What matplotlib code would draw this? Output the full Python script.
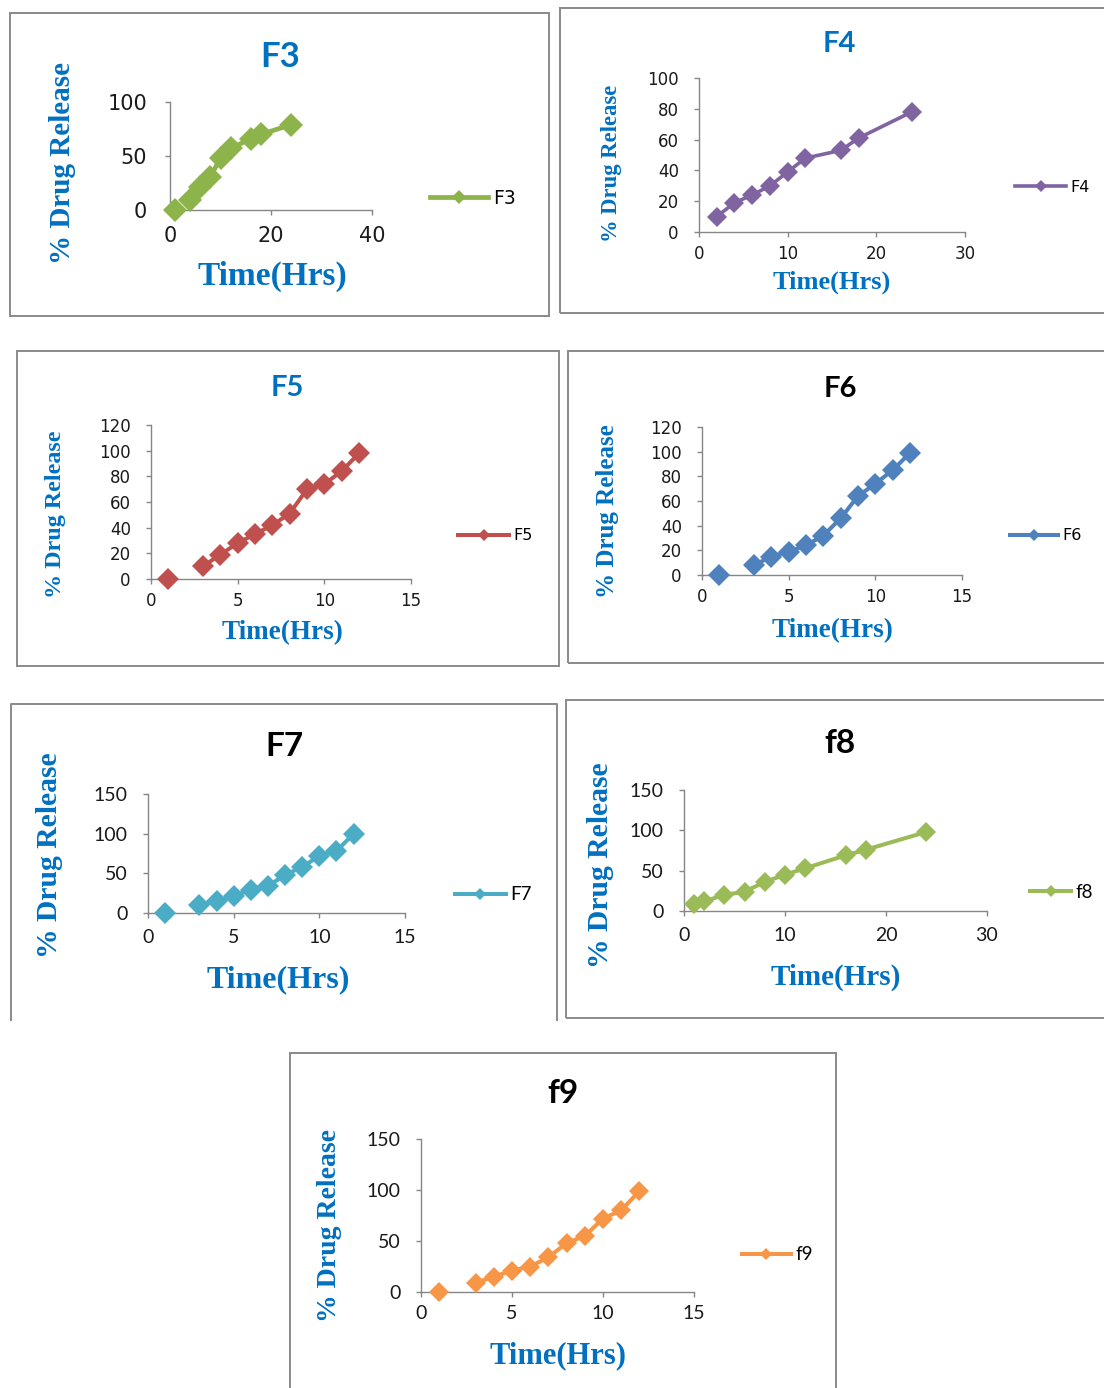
import numpy as np
import matplotlib
matplotlib.use("Agg")
import matplotlib.pyplot as plt
from matplotlib.patches import Rectangle
from matplotlib.lines import Line2D

W, H = 1104, 1388
BLUE = '#0070c0'
GRID = '#868686'

# % drug release against time (hrs); nan = no reading at that hour
t_f3 = [1, 2, 4, 6, 8, 10, 12, 16, 18, 24]
rel_f3 = [0, np.nan, 9, 21, 31, 48, 57, 66, 70, 79]

t_f4 = [2, 4, 6, 8, 10, 12, 16, 18, 24]
rel_f4 = [10, 19, 24, 30, 39, 48, 53, 61, 78]

t_hourly = [1, 2, 3, 4, 5, 6, 7, 8, 9, 10, 11, 12]
rel_f5 = [0, np.nan, 10, 19, 28, 35, 42, 51, 70, 74, 84, 98]
rel_f6 = [0, np.nan, 8, 15, 19, 24, 32, 46, 64, 74, 85, 99]
rel_f7 = [0, np.nan, 10, 15, 22, 29, 34, 48, 58, 72, 78, 100]
rel_f9 = [0, np.nan, 9, 15, 21, 25, 34, 48, 55, 72, 80, 99]

t_f8 = [1, 2, 4, 6, 8, 10, 12, 16, 18, 24]
rel_f8 = [9, 12, 20, 24, 36, 45, 53, 69, 76, 98]

names = ['F3', 'F4', 'F5', 'F6', 'F7', 'f8', 'f9']
times = [t_f3, t_f4, t_hourly, t_hourly, t_hourly, t_f8, t_hourly]
releases = [rel_f3, rel_f4, rel_f5, rel_f6, rel_f7, rel_f8, rel_f9]
colors = ['#8db44a', '#8064a2', '#c0504d', '#4f81bd', '#4bacc6', '#9bbb59', '#f79646']
x_max = [40, 30, 15, 15, 15, 30, 15]
x_step = [20, 10, 5, 5, 5, 10, 5]
y_max = [100, 100, 120, 120, 150, 150, 150]
y_step = [50, 20, 20, 20, 50, 50, 50]

# layout of each chart box, in pixels from the top-left corner
layout = [
    dict(frame=(10, 13, 549, 316), axes=(170, 102, 372, 210), tcol=BLUE,
         title=(280, 67, 25), xlab=(272, 285, 24), ylab=(62, 163, 21),
         tfont='DejaVu Sans', tsize=15, leg=(430, 198, 13.5, 3.1),
         ms=12, lw=3.4, open_bottom=False),
    dict(frame=(560, 8, 1130, 313), axes=(699, 78, 965, 232), tcol=BLUE,
         title=(839, 52, 21), xlab=(832, 289, 19), ylab=(612, 163, 16.3),
         tfont='DejaVu Sans', tsize=12, leg=(1015, 187, 11.5, 3.2),
         ms=10, lw=2.6, open_bottom=False),
    dict(frame=(17, 351, 559, 666), axes=(151, 425, 411, 579), tcol=BLUE,
         title=(287, 396, 21), xlab=(282, 639, 19.5), ylab=(55, 514, 17.4),
         tfont='DejaVu Sans', tsize=12, leg=(458, 536, 11.5, 3.2),
         ms=11, lw=2.9, open_bottom=False),
    dict(frame=(568, 351, 1130, 663), axes=(702, 427, 962, 575), tcol='black',
         title=(840, 397, 21), xlab=(833, 637, 19.5), ylab=(607, 511, 18),
         tfont='DejaVu Sans', tsize=12, leg=(1010, 536, 11.5, 3.0),
         ms=11, lw=2.9, open_bottom=False),
    dict(frame=(11, 704, 557, 1020), axes=(148, 794, 405, 913), tcol='black',
         title=(284, 756, 24), xlab=(278, 987, 23), ylab=(50, 855, 21.3),
         tfont='Lato', tsize=14, leg=(455, 895, 13.5, 2.7),
         ms=10.8, lw=2.9, open_bottom=True),
    dict(frame=(566, 700, 1130, 1018), axes=(684, 790, 987, 911), tcol='black',
         title=(840, 753, 24), xlab=(836, 985, 21), ylab=(600, 865, 21.3),
         tfont='Lato', tsize=14, leg=(1030, 892, 13.5, 2.2),
         ms=9.8, lw=2.9, open_bottom=False),
    dict(frame=(290, 1053, 836, 1400), axes=(421, 1139, 694, 1292), tcol='black',
         title=(563, 1103, 24), xlab=(558, 1363, 22), ylab=(329, 1225, 20),
         tfont='Lato', tsize=14, leg=(742, 1255, 13.5, 2.6),
         ms=10.5, lw=2.9, open_bottom=False),
]


def fx(px):
    return px / W


def fy(py):
    return 1 - py / H


fig = plt.figure(figsize=(W / 100, H / 100), dpi=100)
fig.patch.set_facecolor('white')

for i, name in enumerate(names):
    L = layout[i]

    # outer chart border
    x0, y0, x1, y1 = L['frame']
    if L['open_bottom']:
        fig.add_artist(Line2D([fx(x0), fx(x0), fx(x1), fx(x1)],
                              [fy(y1), fy(y0), fy(y0), fy(y1)],
                              transform=fig.transFigure, color='#8a8a8a', lw=1.4))
    else:
        fig.add_artist(Rectangle((fx(x0), fy(y1)), fx(x1) - fx(x0), fy(y0) - fy(y1),
                                 transform=fig.transFigure, fill=False,
                                 ec='#8a8a8a', lw=1.4))

    # plot area
    ax0, ay0, ax1, ay1 = L['axes']
    ax = fig.add_axes([fx(ax0), fy(ay1), fx(ax1) - fx(ax0), fy(ay0) - fy(ay1)])
    ax.patch.set_alpha(0)
    ax.plot(times[i], releases[i], color=colors[i], lw=L['lw'], marker='D',
            ms=L['ms'], mew=0, clip_on=False, label=name, zorder=3)
    ax.set_xlim(0, x_max[i])
    ax.set_ylim(0, y_max[i])
    ax.set_xticks(np.arange(0, x_max[i] + 1, x_step[i]))
    ax.set_yticks(np.arange(0, y_max[i] + 1, y_step[i]))
    for s in ['top', 'right']:
        ax.spines[s].set_visible(False)
    for s in ['left', 'bottom']:
        ax.spines[s].set_color(GRID)
        ax.spines[s].set_linewidth(1.0)
    ax.tick_params(direction='out', length=3.5, width=1.0, color=GRID,
                   labelsize=L['tsize'], labelcolor='#1a1a1a',
                   labelfontfamily=L['tfont'])
    ax.tick_params(axis='x', pad=8 if i in (0, 4, 5) else 6)
    ax.tick_params(axis='y', pad=13 if i == 0 else 11)

    # title and axis titles
    tx, ty, ts = L['title']
    fig.text(fx(tx), fy(ty), name, ha='center', va='baseline', fontsize=ts,
             fontweight='bold', family='Lato', color=L['tcol'])
    lx, ly, ls = L['xlab']
    fig.text(fx(lx), fy(ly), 'Time(Hrs)', ha='center', va='baseline', fontsize=ls,
             fontweight='bold', family='Liberation Serif', color=BLUE)
    vx, vy, vs = L['ylab']
    fig.text(fx(vx), fy(vy), '% Drug Release', ha='center', va='center',
             rotation=90, fontsize=vs, fontweight='bold',
             family='Liberation Serif', color=BLUE)

    # legend off to the right of the plot
    gx, gy, gs, hl = L['leg']
    ax.legend(loc='center left', bbox_to_anchor=(fx(gx), fy(gy)),
              bbox_transform=fig.transFigure, frameon=False, borderpad=0,
              borderaxespad=0, handlelength=hl, handletextpad=0.25,
              markerscale=0.6, prop={'family': L['tfont'], 'size': gs})

fig.savefig('out.png', dpi=100, facecolor='white')
